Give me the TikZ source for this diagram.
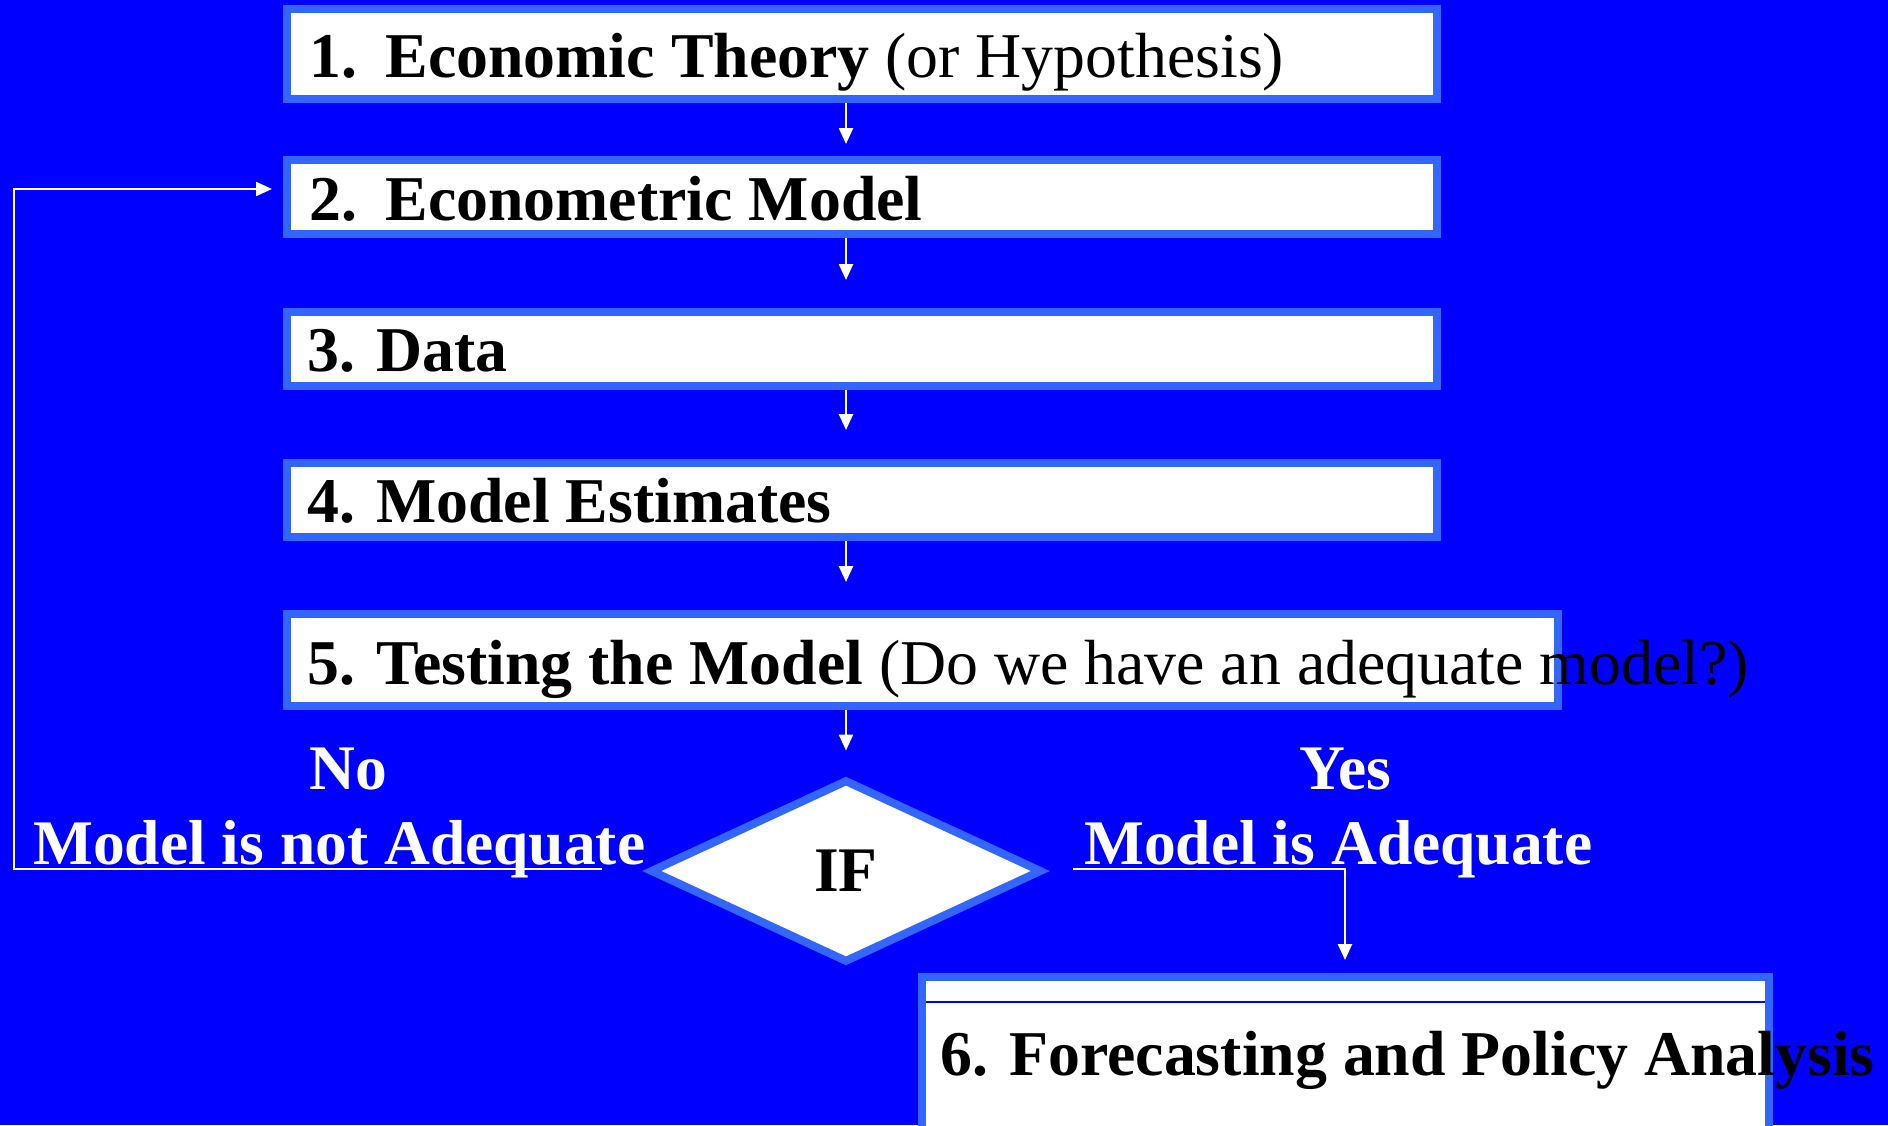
\documentclass[tikz,border=0pt]{standalone}
\usepackage{fontspec}
\setmainfont{Liberation Serif}
\usetikzlibrary{shapes.geometric,arrows.meta}
\definecolor{bg}{HTML}{0000FF}
\definecolor{rim}{HTML}{3366FF}
\tikzset{
  stagebox/.style={draw=rim, fill=white, line width=8pt, rectangle, inner sep=0pt},
  boxtext/.style={anchor=base west, inner sep=0pt, text=black, font=\fontsize{63.8}{70}\selectfont},
  lbl/.style={inner sep=0pt, text=white, font=\fontsize{63.5}{70}\selectfont\bfseries},
  arr/.style={draw=white, line width=2.5pt, -{Triangle[length=16pt,width=14pt]}},
  decision/.style={diamond, draw=rim, fill=white, line width=8pt, inner sep=0pt, minimum width=392pt, minimum height=183pt, font=\fontsize{63.5}{70}\selectfont\bfseries}
}
\begin{document}
\begin{tikzpicture}[x=1pt, y=-1pt]
\useasboundingbox (0,0) rectangle (1888,1125);
\clip (0,0) rectangle (1888,1125);
\fill[bg] (0,0) rectangle (1888,1125);
% boxes
\node[stagebox, minimum width=1150pt, minimum height=90pt] (b1) at (862,54) {};
\node[stagebox, minimum width=1150pt, minimum height=74pt] (b2) at (862,197) {};
\node[stagebox, minimum width=1150pt, minimum height=74pt] (b3) at (862,349) {};
\node[stagebox, minimum width=1150pt, minimum height=74pt] (b4) at (862,500) {};
\node[stagebox, minimum width=1271pt, minimum height=92pt] (b5) at (922.5,660) {};
\node[stagebox, minimum width=847pt, minimum height=155pt] (b6) at (1345.5,1054.5) {};
\coordinate (l6a) at (926,1002);
\coordinate (l6b) at (1765,1002);
\draw[bg, line width=1.5pt] (l6a) -- (l6b);
\node[decision] (d) at (846,871) {IF};
% texts
\node[boxtext] (t1) at (309,77) {\textbf{1.\hspace{0.45em}Economic Theory} (or Hypothesis)};
\node[boxtext] (t2) at (309,220) {\textbf{2.\hspace{0.45em}Econometric Model}};
\node[boxtext] (t3) at (307,371) {\textbf{3. Data}};
\node[boxtext] (t4) at (307,522) {\textbf{4. Model Estimates}};
\node[boxtext] (t5) at (307,684) {\textbf{5. Testing the Model} (Do we have an adequate model?)};
\node[boxtext] (t6) at (940,1075) {\textbf{6. Forecasting and Policy Analysis}};
\node[lbl, anchor=base] (no) at (348,789) {No};
\node[lbl, anchor=base west] (nol) at (33,864) {Model is not Adequate};
\node[lbl, anchor=base] (yes) at (1345,789) {Yes};
\node[lbl, anchor=base west] (yesl) at (1084,864) {Model is Adequate};
% arrows
\draw[arr, shorten >=12pt] (d |- b1.south) -- (d |- b2.north);
\draw[arr, shorten >=28pt] (d |- b2.south) -- (d |- b3.north);
\draw[arr, shorten >=29pt] (d |- b3.south) -- (d |- b4.north);
\draw[arr, shorten >=28pt] (d |- b4.south) -- (d |- b5.north);
\draw[arr, shorten >=25pt] (d |- b5.south) -- (d.north);
\coordinate (noStart) at (602,869);
\coordinate (loopCorner) at (14,869);
\draw[arr, shorten >=11pt] (noStart) -- (loopCorner) |- ([yshift=8pt]b2.west);
\coordinate (yesStart) at (1073,869);
\coordinate (yesX) at (1345,0);
\draw[arr, shorten >=13pt] (yesStart) -| (yesX |- b6.north);
\end{tikzpicture}
\end{document}
